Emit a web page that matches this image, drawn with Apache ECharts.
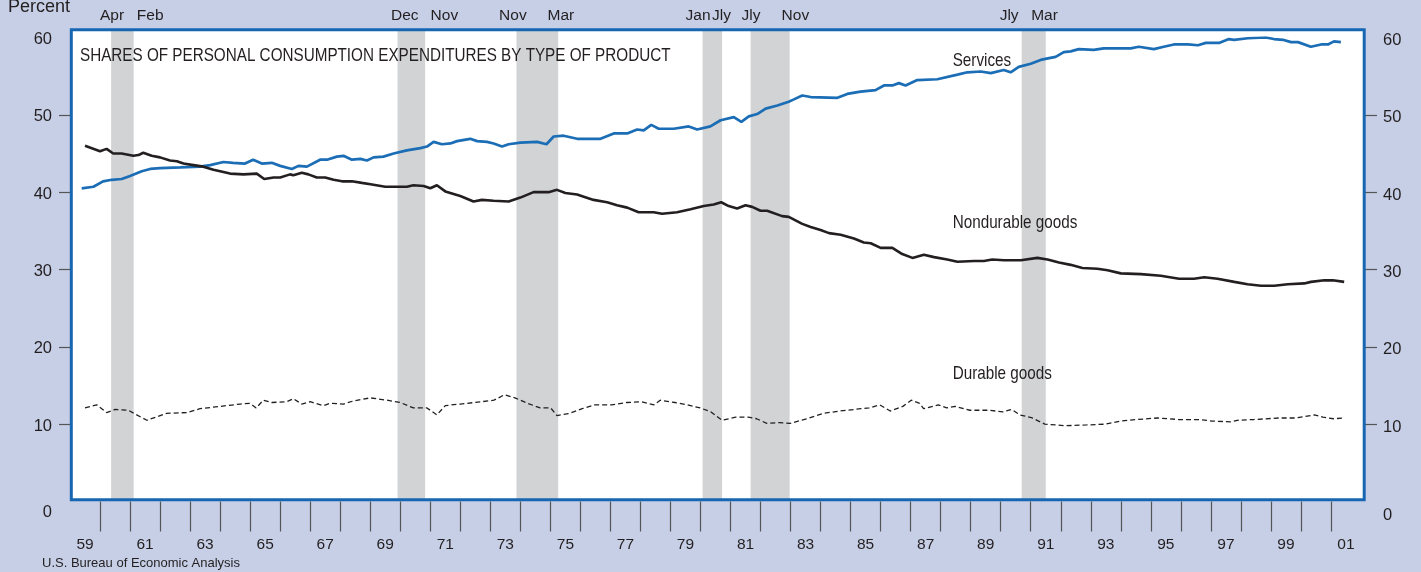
<!DOCTYPE html>
<html>
<head>
<meta charset="utf-8">
<title>Shares of Personal Consumption Expenditures by Type of Product</title>
<script src="https://cdn.jsdelivr.net/npm/echarts@6/dist/echarts.min.js"></script>
<style>
  html, body { margin: 0; padding: 0; background: #c6cfe6; }
  #chart { width: 1421px; height: 572px; }
</style>
</head>
<body>
<div id="chart"></div>
<script>
// years are fractional, e.g. 1975.5 is mid-1975; values are percent of PCE
const servicesYears = [
  1959.39, 1959.78, 1960.10, 1960.39, 1960.72, 1961.00, 1961.39, 1961.67, 1962.00, 1962.67,
  1963.33, 1963.67, 1964.11, 1964.43, 1964.83, 1965.10, 1965.39, 1965.72, 1966.00, 1966.39,
  1966.61, 1966.89, 1967.33, 1967.56, 1967.89, 1968.11, 1968.39, 1968.67, 1968.89, 1969.11,
  1969.44, 1969.78, 1970.22, 1970.67, 1970.89, 1971.11, 1971.39, 1971.67, 1971.89, 1972.33,
  1972.56, 1972.89, 1973.11, 1973.39, 1973.61, 1974.00, 1974.56, 1974.87, 1975.11, 1975.44,
  1975.89, 1976.33, 1976.67, 1977.11, 1977.56, 1977.89, 1978.11, 1978.36, 1978.61, 1979.11,
  1979.61, 1979.89, 1980.33, 1980.67, 1981.11, 1981.36, 1981.61, 1981.89, 1982.17, 1982.56,
  1982.94, 1983.11, 1983.39, 1983.67, 1984.56, 1984.89, 1985.33, 1985.83, 1986.11, 1986.39,
  1986.61, 1986.83, 1987.22, 1987.89, 1988.56, 1988.89, 1989.33, 1989.67, 1990.10, 1990.33,
  1990.60, 1991.00, 1991.33, 1991.57, 1991.83, 1992.10, 1992.33, 1992.60, 1993.10, 1993.43,
  1993.77, 1994.33, 1994.60, 1995.10, 1995.43, 1995.77, 1996.23, 1996.57, 1996.83, 1997.27,
  1997.60, 1997.77, 1998.23, 1998.83, 1999.10, 1999.40, 1999.67, 1999.90, 2000.33, 2000.67,
  2000.90, 2001.10, 2001.33
]
const servicesValues = [
  40.5, 40.7, 41.4, 41.6, 41.7, 42.1, 42.7, 43.0, 43.1, 43.2,
  43.3, 43.5, 43.9, 43.8, 43.7, 44.2, 43.7, 43.8, 43.4, 43.0,
  43.4, 43.3, 44.2, 44.2, 44.6, 44.7, 44.2, 44.3, 44.1, 44.5,
  44.6, 45.0, 45.4, 45.7, 45.9, 46.5, 46.2, 46.3, 46.6, 46.9,
  46.6, 46.5, 46.3, 45.9, 46.2, 46.4, 46.5, 46.2, 47.2, 47.3,
  46.9, 46.9, 46.9, 47.6, 47.6, 48.1, 48.0, 48.7, 48.2, 48.2,
  48.5, 48.1, 48.5, 49.3, 49.7, 49.1, 49.8, 50.1, 50.8, 51.2,
  51.7, 52.0, 52.5, 52.3, 52.2, 52.7, 53.0, 53.2, 53.8, 53.8,
  54.1, 53.8, 54.5, 54.6, 55.2, 55.5, 55.6, 55.4, 55.8, 55.5,
  56.2, 56.6, 57.1, 57.3, 57.5, 58.1, 58.2, 58.5, 58.4, 58.6,
  58.6, 58.6, 58.8, 58.5, 58.8, 59.1, 59.1, 59.0, 59.3, 59.3,
  59.8, 59.7, 59.9, 60.0, 59.8, 59.7, 59.4, 59.4, 58.8, 59.1,
  59.1, 59.5, 59.4
]

const nondurableYears = [
  1959.50, 1960.00, 1960.22, 1960.44, 1960.72, 1961.11, 1961.28, 1961.44, 1961.72, 1962.00,
  1962.33, 1962.56, 1962.78, 1963.11, 1963.44, 1963.78, 1964.11, 1964.33, 1964.78, 1965.22,
  1965.47, 1965.78, 1966.00, 1966.33, 1966.44, 1966.72, 1966.94, 1967.22, 1967.50, 1967.78,
  1968.06, 1968.39, 1968.72, 1969.06, 1969.50, 1970.22, 1970.44, 1970.78, 1971.00, 1971.22,
  1971.50, 1972.00, 1972.44, 1972.72, 1973.11, 1973.61, 1974.00, 1974.44, 1974.94, 1975.22,
  1975.50, 1975.89, 1976.44, 1976.89, 1977.22, 1977.56, 1977.94, 1978.44, 1978.72, 1979.22,
  1979.67, 1980.11, 1980.44, 1980.69, 1980.94, 1981.22, 1981.50, 1981.72, 1982.00, 1982.22,
  1982.72, 1982.94, 1983.39, 1983.67, 1984.00, 1984.28, 1984.67, 1985.11, 1985.44, 1985.67,
  1986.00, 1986.39, 1986.72, 1987.06, 1987.44, 1987.78, 1988.22, 1988.56, 1989.11, 1989.44,
  1989.72, 1990.11, 1990.67, 1991.22, 1991.56, 1991.94, 1992.33, 1992.72, 1993.22, 1993.56,
  1994.00, 1994.67, 1995.33, 1995.94, 1996.44, 1996.78, 1997.22, 1997.78, 1998.22, 1998.67,
  1999.11, 1999.56, 2000.11, 2000.33, 2000.78, 2001.06, 2001.44
]
const nondurableValues = [
  46.0, 45.3, 45.6, 45.0, 45.0, 44.7, 44.8, 45.1, 44.7, 44.5,
  44.1, 44.0, 43.7, 43.5, 43.3, 42.9, 42.6, 42.4, 42.3, 42.4,
  41.7, 41.9, 41.9, 42.3, 42.2, 42.5, 42.3, 41.9, 41.9, 41.6,
  41.4, 41.4, 41.2, 41.0, 40.7, 40.7, 40.9, 40.8, 40.5, 40.9,
  40.1, 39.5, 38.8, 39.0, 38.9, 38.8, 39.3, 40.0, 40.0, 40.3,
  39.9, 39.7, 39.0, 38.7, 38.3, 38.0, 37.4, 37.4, 37.2, 37.4,
  37.8, 38.2, 38.4, 38.7, 38.2, 37.9, 38.3, 38.1, 37.6, 37.6,
  36.9, 36.8, 35.9, 35.5, 35.1, 34.7, 34.5, 34.0, 33.5, 33.4,
  32.8, 32.8, 32.0, 31.5, 31.9, 31.6, 31.3, 31.0, 31.1, 31.1,
  31.3, 31.2, 31.2, 31.5, 31.3, 30.9, 30.6, 30.2, 30.1, 29.9,
  29.5, 29.4, 29.2, 28.8, 28.8, 29.0, 28.8, 28.4, 28.1, 27.9,
  27.9, 28.1, 28.2, 28.4, 28.6, 28.6, 28.4
]

const durableYears = [
  1959.50, 1959.89, 1960.22, 1960.50, 1960.94, 1961.56, 1962.22, 1962.89, 1963.33, 1964.00,
  1964.67, 1965.00, 1965.20, 1965.44, 1965.72, 1966.22, 1966.44, 1966.72, 1967.00, 1967.44,
  1967.67, 1968.11, 1968.44, 1969.00, 1969.56, 1970.00, 1970.44, 1970.89, 1971.22, 1971.50,
  1972.00, 1972.70, 1973.12, 1973.47, 1973.82, 1974.24, 1974.66, 1975.01, 1975.22, 1975.64,
  1976.06, 1976.48, 1977.04, 1977.54, 1978.03, 1978.45, 1978.66, 1979.15, 1979.57, 1979.99,
  1980.34, 1980.72, 1981.17, 1981.59, 1981.87, 1982.21, 1982.63, 1982.98, 1983.54, 1984.09,
  1984.65, 1985.35, 1985.62, 1985.97, 1986.32, 1986.74, 1987.02, 1987.30, 1987.43, 1987.92,
  1988.20, 1988.48, 1988.97, 1989.59, 1990.08, 1990.36, 1990.64, 1991.05, 1991.47, 1992.17,
  1992.86, 1993.49, 1993.98, 1994.54, 1995.23, 1995.93, 1996.62, 1997.04, 1997.67, 1997.88,
  1998.43, 1999.27, 1999.83, 2000.45, 2000.73, 2001.08, 2001.43
]
const durableValues = [
  12.1, 12.5, 11.5, 11.9, 11.8, 10.5, 11.4, 11.5, 12.0, 12.3,
  12.6, 12.7, 12.1, 13.1, 12.8, 12.9, 13.3, 12.6, 12.9, 12.4,
  12.7, 12.6, 13.0, 13.4, 13.1, 12.8, 12.1, 12.1, 11.2, 12.4,
  12.6, 12.9, 13.1, 13.8, 13.4, 12.7, 12.1, 12.1, 11.1, 11.4,
  12.0, 12.5, 12.5, 12.8, 12.9, 12.5, 13.1, 12.8, 12.5, 12.1,
  11.6, 10.5, 10.9, 10.9, 10.7, 10.1, 10.2, 10.1, 10.7, 11.4,
  11.7, 12.0, 12.1, 12.5, 11.7, 12.3, 13.1, 12.7, 12.0, 12.5,
  12.1, 12.3, 11.8, 11.8, 11.6, 11.9, 11.2, 10.8, 10.0, 9.8,
  9.9, 10.0, 10.4, 10.6, 10.8, 10.6, 10.6, 10.4, 10.3, 10.5,
  10.6, 10.8, 10.8, 11.2, 10.9, 10.7, 10.8
]

// shaded recessions
const recessionStarts = [1960.37, 1969.91, 1973.87, 1980.07, 1981.67, 1990.70]
const recessionEnds = [1961.12, 1970.83, 1975.26, 1980.72, 1982.97, 1991.50]
const monthLabels = ['Apr', 'Feb', 'Dec', 'Nov', 'Nov', 'Mar', 'Jan', 'Jly', 'Jly', 'Nov', 'Jly', 'Mar']
const monthLabelYears = [1960.40, 1961.67, 1970.15, 1971.47, 1973.75, 1975.35, 1979.92, 1980.70, 1981.68, 1983.16, 1990.28, 1991.46]

// axes
const xTickYears = [
  1960, 1961, 1962, 1963, 1964, 1965, 1966, 1967, 1968, 1969, 1970, 1971, 1972, 1973,
  1974, 1975, 1976, 1977, 1978, 1979, 1980, 1981, 1982, 1983, 1984, 1985, 1986, 1987,
  1988, 1989, 1990, 1991, 1992, 1993, 1994, 1995, 1996, 1997, 1998, 1999, 2000, 2001
]
const xLabelYears = [
  1959.5, 1961.5, 1963.5, 1965.5, 1967.5, 1969.5, 1971.5, 1973.5, 1975.5, 1977.5, 1979.5,
  1981.5, 1983.5, 1985.5, 1987.5, 1989.5, 1991.5, 1993.5, 1995.5, 1997.5, 1999.5, 2001.5
]
const xLabels = ['59', '61', '63', '65', '67', '69', '71', '73', '75', '77', '79',
  '81', '83', '85', '87', '89', '91', '93', '95', '97', '99', '01']
const yTickMarks = [10, 20, 30, 40, 50]

const seriesNames = ['Services', 'Nondurable goods', 'Durable goods']

const FONT = '"Liberation Sans", Arial, sans-serif'
const INK = '#231f20'
const NARROW = 0.82 // horizontal squeeze to mimic the condensed face of the original

const pairs = (xs, ys) => xs.map((x, i) => [x, ys[i]])
const lookup = (keys, names) => v => {
  const i = keys.findIndex(k => Math.abs(k - v) < 1e-6)
  return i < 0 ? '' : names[i]
}

const chart = echarts.init(document.getElementById('chart'))

const yLabel = (pad, zeroPad) => ({
  fontSize: 16.5,
  fontFamily: FONT,
  color: INK,
  formatter: v => (v === 0 ? '{z|0}' : '{n|' + v + '}'),
  rich: {
    n: { fontSize: 16.5, fontFamily: FONT, color: INK, padding: [pad, 0, 0, 0] },
    z: { fontSize: 16.5, fontFamily: FONT, color: INK, padding: [zeroPad, 0, 0, 0] }
  }
})

const option = {
  animation: false,
  backgroundColor: '#c6cfe6',
  grid: [
    { left: 70, right: 60, top: 37.5, bottom: 70.5 },
    { left: 70, right: 60, top: 29.7, bottom: 72.2 }
  ],
  xAxis: [
    {
      gridIndex: 0, type: 'value', min: 1959, max: 2002, interval: 1, position: 'bottom',
      axisLine: { show: false },
      splitLine: { show: false },
      axisTick: { show: true, inside: false, length: 30, customValues: xTickYears,
        lineStyle: { color: '#555', width: 1.2 } },
      axisLabel: { customValues: xLabelYears, formatter: lookup(xLabelYears, xLabels),
        margin: 35, fontSize: 15.5, fontFamily: FONT, color: INK }
    },
    {
      gridIndex: 0, type: 'value', min: 1959, max: 2002, interval: 1, position: 'top',
      axisLine: { show: false },
      axisTick: { show: false },
      splitLine: { show: false },
      axisLabel: { customValues: monthLabelYears, formatter: lookup(monthLabelYears, monthLabels),
        margin: 14, fontSize: 15.5, fontFamily: FONT, color: INK, hideOverlap: false }
    },
    { gridIndex: 1, type: 'value', min: 1959, max: 2002, show: false }
  ],
  yAxis: [
    {
      gridIndex: 0, type: 'value', min: 0, max: 60, interval: 10, position: 'left',
      axisLine: { show: false },
      splitLine: { show: false },
      axisTick: { show: true, length: 11, customValues: yTickMarks, lineStyle: { color: '#555', width: 1.2 } },
      axisLabel: { margin: 18, ...yLabel(4, 21) }
    },
    {
      gridIndex: 0, type: 'value', min: 0, max: 60, interval: 10, position: 'right', offset: 4,
      axisLine: { show: false },
      splitLine: { show: false },
      axisTick: { show: true, length: 12, customValues: yTickMarks, lineStyle: { color: '#555', width: 1.2 } },
      axisLabel: { margin: 18, ...yLabel(6, 27) }
    },
    { gridIndex: 1, type: 'value', min: 0, max: 1, show: false }
  ],
  series: [
    {
      type: 'line', xAxisIndex: 2, yAxisIndex: 2, data: [], silent: true,
      markArea: {
        silent: true,
        itemStyle: { color: '#d1d3d5' },
        data: recessionStarts.map((s, i) => [{ xAxis: s }, { xAxis: recessionEnds[i] }])
      }
    },
    {
      name: seriesNames[0], type: 'line', data: pairs(servicesYears, servicesValues),
      symbol: 'none', z: 4, lineStyle: { color: '#1b6db5', width: 2.7 }
    },
    {
      name: seriesNames[1], type: 'line', data: pairs(nondurableYears, nondurableValues),
      symbol: 'none', z: 4, lineStyle: { color: INK, width: 2.6 }
    },
    {
      name: seriesNames[2], type: 'line', data: pairs(durableYears, durableValues),
      symbol: 'none', z: 4, lineStyle: { color: INK, width: 1.3, type: [5, 3] }
    }
  ]
}

chart.setOption(option)

// text placed in data space next to each line
const labelAnchors = [[1988.4, 57.0], [1988.4, 36.0], [1988.4, 16.5]]
const frame = { x: 71.3, y: 29.7, width: 1292.9, height: 470.1 }

const narrowText = (text, x, y, size) => ({
  type: 'text', x, y, scaleX: NARROW, z: 50, silent: true,
  style: { text, fontSize: size, fontFamily: FONT, fill: INK, align: 'left', verticalAlign: 'middle' }
})

chart.setOption({
  graphic: [
    { type: 'rect', shape: frame, style: { fill: '#fff' }, z: -10, silent: true },
    { type: 'rect', shape: frame, style: { fill: 'none', stroke: '#1766b1', lineWidth: 3 }, z: 100, silent: true },
    narrowText('SHARES OF PERSONAL CONSUMPTION EXPENDITURES BY TYPE OF PRODUCT', 80, 56, 18.6),
    { type: 'text', x: 8, y: 7, z: 50, silent: true,
      style: { text: 'Percent', fontSize: 18, fontFamily: FONT, fill: INK, align: 'left', verticalAlign: 'middle' } },
    { type: 'text', x: 42, y: 563, z: 50, silent: true,
      style: { text: 'U.S. Bureau of Economic Analysis', fontSize: 13, fontFamily: FONT, fill: INK,
        align: 'left', verticalAlign: 'middle' } },
    ...seriesNames.map((name, i) => {
      const p = chart.convertToPixel({ gridIndex: 0 }, labelAnchors[i])
      return narrowText(name, p[0], p[1], 18.6)
    })
  ]
})

window.addEventListener('resize', () => chart.resize())
</script>
</body>
</html>
